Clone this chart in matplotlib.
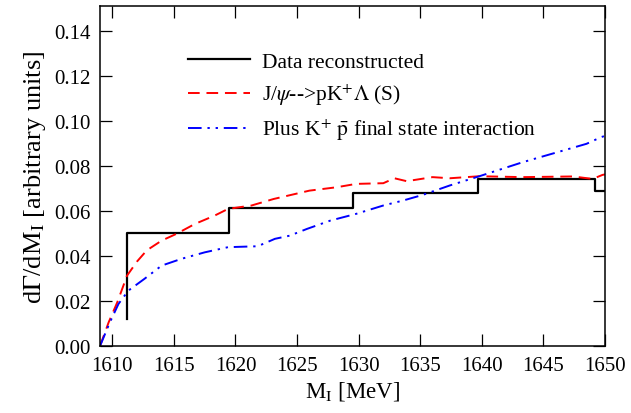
import matplotlib
matplotlib.use('agg')
from matplotlib import pyplot as plt

# Data reconstructed (step histogram)
data_m = [1611.2, 1611.2, 1619.45, 1629.55, 1639.65, 1649.15, 1650.0]
data_v = [0.012, 0.050, 0.0612, 0.0680, 0.0742, 0.0690, 0.0690]

# J/psi --> p K+ Lambda (S)
model_m = [1609.0, 1609.7, 1610.4, 1611.2, 1612.0, 1612.8, 1614.0, 1615.2,
           1616.7, 1618.3, 1619.4, 1621.3, 1623.1, 1626.0, 1628.2, 1629.8,
           1632.0, 1632.9, 1633.9, 1636.0, 1637.4, 1639.8, 1643.3, 1647.4,
           1649.0, 1649.8, 1650.0]
model_v = [0.0, 0.0105, 0.0194, 0.0313, 0.0375, 0.0425, 0.0468, 0.0498,
           0.0542, 0.0579, 0.0609, 0.0624, 0.0653, 0.0690, 0.0705, 0.0720,
           0.0723, 0.0745, 0.0732, 0.0750, 0.0745, 0.0754, 0.0750, 0.0753,
           0.0742, 0.0760, 0.0762]

# Plus K+ pbar final state interaction
fsi_m = [1609.0, 1609.8, 1610.5, 1611.3, 1612.6, 1614.0, 1615.6, 1617.5,
         1619.4, 1621.8, 1623.2, 1624.4, 1625.8, 1627.7, 1629.8, 1632.0,
         1633.6, 1635.2, 1637.4, 1639.8, 1643.3, 1646.6, 1648.5, 1649.7,
         1650.0]
fsi_v = [0.0, 0.0105, 0.0187, 0.0246, 0.0298, 0.0357, 0.0387, 0.0416,
         0.0439, 0.0443, 0.0476, 0.0490, 0.0520, 0.0557, 0.0587, 0.0624,
         0.0646, 0.0671, 0.0713, 0.0754, 0.0816, 0.0868, 0.0898, 0.0928,
         0.0933]

plt.rcParams['font.family'] = 'serif'
plt.rcParams['font.serif'] = ['Liberation Serif', 'DejaVu Serif']
plt.rcParams['mathtext.fontset'] = 'stix'

fig = plt.figure(figsize=(6.31, 4.14), dpi=100)
ax = fig.add_axes([0.1585, 0.1618, 0.8003, 0.8213])

ax.step(data_m, data_v, where='post', color='black', lw=1.6,
        label='Data reconstructed')
ax.plot(model_m, model_v, color='red', lw=1.4, dashes=(6, 3.5),
        label=r'J/$\psi$-->pK$^{+}\Lambda$ (S)')
ax.plot(fsi_m, fsi_v, color='blue', lw=1.4, dashes=(7, 3, 1.2, 3, 1.2, 3),
        label=r'Plus K$^{+}$ $\bar{\rm p}$ final state interaction')

ax.set_xlim(1609, 1650)
ax.set_ylim(0, 0.151)
ax.set_xticks(range(1610, 1651, 5))
ax.set_yticks([0.0, 0.02, 0.04, 0.06, 0.08, 0.10, 0.12, 0.14])
ax.set_yticklabels(['%.2f' % t for t in ax.get_yticks()])
ax.tick_params(direction='in', length=8.5, width=0.9, top=True, right=True,
               labelsize=15, pad=7)
for s in ax.spines.values():
    s.set_linewidth(1.1)

ax.set_xlabel(r'M$_{\rm I}$ [MeV]', fontsize=16.5, labelpad=3)
ax.set_ylabel(r'd$\Gamma$/dM$_{\rm I}$ [arbitrary units]', fontsize=19,
              labelpad=4)

ax.legend(loc='upper left', bbox_to_anchor=(0.135, 0.922), frameon=False,
          fontsize=15.5, handlelength=2.9, handletextpad=0.55,
          labelspacing=0.45)

fig.savefig('out.png', dpi=100)
